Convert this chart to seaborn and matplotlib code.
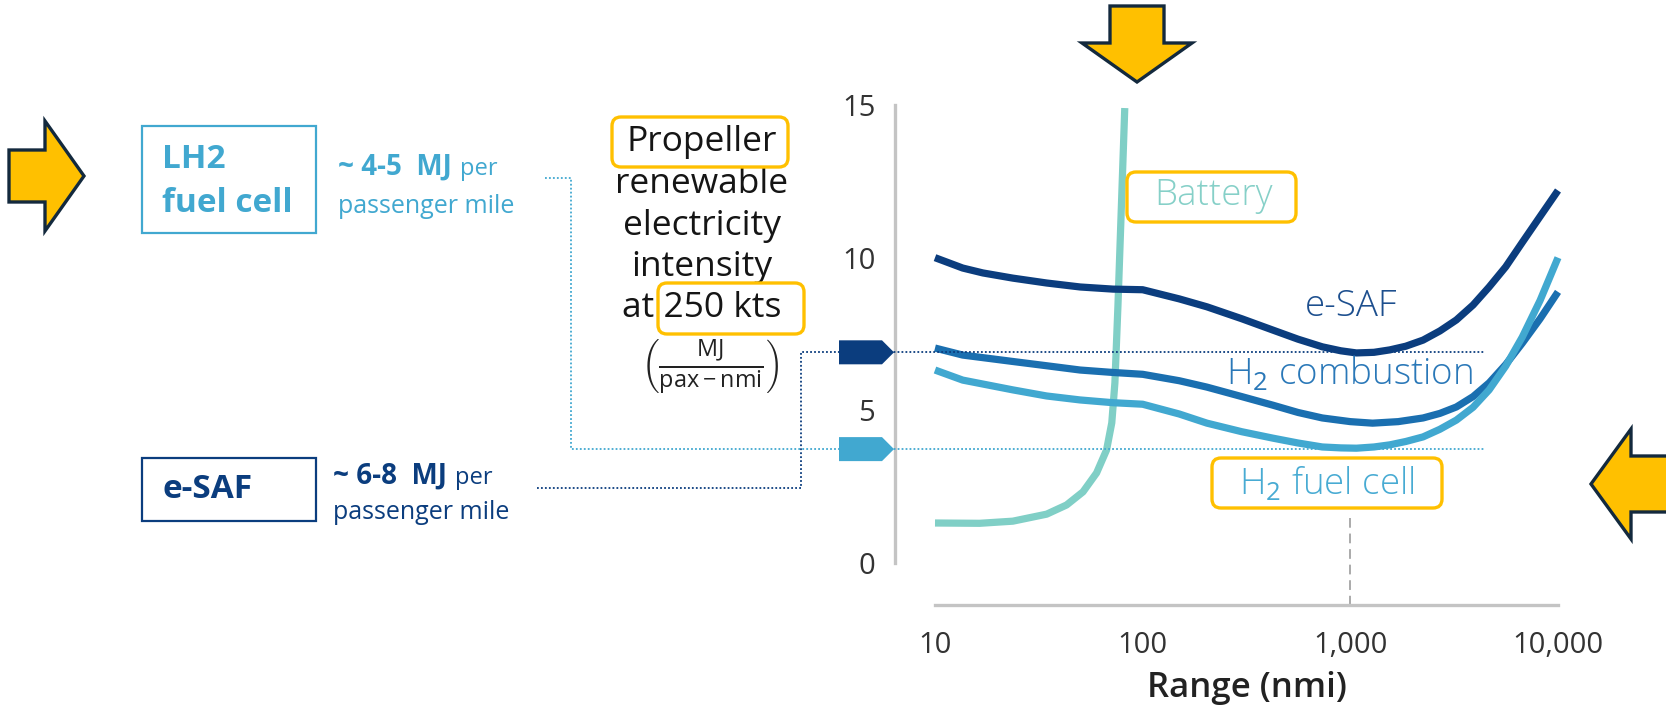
import numpy as np
import pandas as pd
import matplotlib
matplotlib.use("Agg")
import matplotlib.pyplot as plt
import seaborn as sns
from matplotlib.patches import Polygon, FancyBboxPatch, Rectangle
from matplotlib.lines import Line2D
from matplotlib.transforms import IdentityTransform
from matplotlib.ticker import LogLocator, FixedLocator, NullFormatter

# ---------------- data ----------------
esaf_range = [10, 13.6, 17, 23.7, 34.5, 50, 72, 100, 150, 204, 300, 423, 560, 733, 900,
              1070, 1300, 1550, 1850, 2240, 2700, 3240, 3900, 4660, 5600, 6730, 8200, 10000]
esaf_mj = [10.0, 9.66, 9.5, 9.33, 9.17, 9.04, 8.97, 8.95, 8.65, 8.39, 8.0, 7.63, 7.33, 7.08, 6.95,
           6.88, 6.9, 6.98, 7.1, 7.3, 7.6, 7.96, 8.45, 9.04, 9.7, 10.5, 11.35, 12.2]

h2comb_range = [10, 13.6, 23.7, 34.5, 50, 72, 100, 150, 204, 300, 423, 560, 733, 1000,
                1280, 1700, 2240, 2700, 3240, 3900, 4660, 5600, 6730, 8200, 10000]
h2comb_mj = [7.04, 6.81, 6.6, 6.46, 6.32, 6.24, 6.18, 5.97, 5.76, 5.45, 5.17, 4.93, 4.75, 4.63,
             4.58, 4.63, 4.75, 4.9, 5.11, 5.45, 5.9, 6.5, 7.2, 8.0, 8.88]

h2fc_range = [10, 13.6, 23.7, 34.5, 50, 72, 100, 150, 204, 300, 423, 560, 733, 900, 1070,
              1300, 1550, 1850, 2240, 2700, 3240, 3900, 4660, 5600, 6730, 8200, 10000]
h2fc_mj = [6.32, 5.99, 5.67, 5.47, 5.34, 5.25, 5.2, 4.88, 4.58, 4.3, 4.09, 3.93, 3.8, 3.77, 3.76,
           3.8, 3.87, 3.98, 4.13, 4.38, 4.68, 5.1, 5.67, 6.45, 7.4, 8.6, 10.0]

battery_range = [10, 16.4, 23.7, 34.5, 43, 51.6, 60, 67, 71, 73.5, 76, 79, 82]
battery_mj = [1.31, 1.3, 1.37, 1.6, 1.9, 2.33, 2.95, 3.7, 4.59, 5.9, 8.4, 11.7, 14.9]

series_names = ["e-SAF", "H2 combustion", "H2 fuel cell", "Battery"]
series_colors = ["#0b3d7e", "#1a6fb0", "#41a8d0", "#80cfc6"]

x_ticks = [10, 100, 1000, 10000]
x_ticklabels = ["10", "100", "1,000", "10,000"]
y_ticks = [0, 5, 10, 15]
y_ticklabels = ["0", "5", "10", "15"]

esaf_marker_level = 6.9      # e-SAF minimum (~6-8 MJ)
h2fc_marker_level = 3.73     # H2 fuel cell minimum (~4-5 MJ)
h2fc_min_range = 1000

# ---------------- figure ----------------
sns.set_style("white")
plt.rcParams["font.family"] = ["Open Sans", "DejaVu Sans"]
plt.rcParams["mathtext.fontset"] = "custom"
plt.rcParams["mathtext.rm"] = "Open Sans"
plt.rcParams["mathtext.it"] = "Open Sans:italic"
plt.rcParams["mathtext.bf"] = "Open Sans:bold"

W, H = 1666, 714
fig = plt.figure(figsize=(W / 100, H / 100), dpi=100)
fig.patch.set_facecolor("white")
ID = IdentityTransform()

def P(x, y):
    return (x, H - y)

# axes: x 10..10000 -> px 935..1558 ; y 0..15 -> px 563..105
ax = fig.add_axes([935 / W, 1 - 563 / H, (1558 - 935) / W, (563 - 105) / H])
ax.set_facecolor("none")

frames = [
    pd.DataFrame({"range": esaf_range, "mj": esaf_mj, "s": series_names[0]}),
    pd.DataFrame({"range": h2comb_range, "mj": h2comb_mj, "s": series_names[1]}),
    pd.DataFrame({"range": h2fc_range, "mj": h2fc_mj, "s": series_names[2]}),
    pd.DataFrame({"range": battery_range, "mj": battery_mj, "s": series_names[3]}),
]
order = [3, 0, 1, 2]
for i in order:
    sns.lineplot(data=frames[i], x="range", y="mj", ax=ax, color=series_colors[i],
                 linewidth=5.2, estimator=None, sort=False, legend=False,
                 solid_capstyle="butt", solid_joinstyle="round")
for ln in ax.lines:
    ln.set_clip_on(False)

ax.set_xscale("log")
ax.set_xlim(10, 10000)
ax.set_ylim(0, 15)
ax.set_xlabel("Range (nmi)", fontsize=25, fontweight="semibold", color="#222222", labelpad=8)
ax.set_ylabel("")

spine_col = "#c4c4c4"
for s in ["top", "right"]:
    ax.spines[s].set_visible(False)
ax.spines["left"].set_position(("outward", 29))
ax.spines["bottom"].set_position(("outward", 30))
ax.spines["left"].set_bounds(0, 15)
ax.spines["bottom"].set_bounds(10, 10000)
for s in ["left", "bottom"]:
    ax.spines[s].set_color(spine_col)
    ax.spines[s].set_linewidth(2.4)

ax.xaxis.set_major_locator(FixedLocator(x_ticks))
ax.set_xticklabels(x_ticklabels)
ax.xaxis.set_minor_locator(LogLocator(base=10, subs=np.arange(2, 10)))
ax.xaxis.set_minor_formatter(NullFormatter())
ax.set_yticks(y_ticks)
ax.set_yticklabels(y_ticklabels)
ax.tick_params(axis="x", which="major", direction="out", length=14, width=2.0,
               color=spine_col, labelsize=21, labelcolor="#333333", pad=5)
ax.tick_params(axis="x", which="minor", direction="out", length=7, width=1.6, color=spine_col)
ax.tick_params(axis="y", which="major", direction="out", length=9, width=2.0,
               color=spine_col, labelsize=21, labelcolor="#333333", pad=5)
ax.tick_params(axis="y", which="minor", left=False)

# dashed grey guide at the fuel-cell optimum range
ax.plot([h2fc_min_range, h2fc_min_range], [1.47, -1.4], color="#aaaaaa", lw=1.4,
        ls=(0, (5, 3)), clip_on=False, zorder=1)

fig.canvas.draw()
renderer = fig.canvas.get_renderer()

def ypix_of(v):
    # pixel y measured from the top
    return H - ax.transData.transform((10, v))[1]

y_esaf = ypix_of(esaf_marker_level)
y_fc = ypix_of(h2fc_marker_level)

# ---------------- connectors (dotted) ----------------
navy = "#0b3d7e"
light = "#41a8d0"
def dotted(pts, color):
    xs = [p[0] for p in pts]
    ys = [H - p[1] for p in pts]
    fig.add_artist(Line2D(xs, ys, transform=ID, color=color, lw=1.3, ls=(0, (1, 1.2)), zorder=2))

dotted([(545, 178), (571, 178), (571, y_fc), (1484, y_fc)], light)
dotted([(537, 488), (801, 488), (801, y_esaf), (1484, y_esaf)], navy)

# pentagon markers on the y axis
def pent(yc, color):
    pts = [P(839, yc - 12), P(882, yc - 12), P(894, yc), P(882, yc + 12), P(839, yc + 12)]
    fig.add_artist(Polygon(pts, closed=True, transform=ID, fc=color, ec="none", zorder=5))
pent(y_esaf, navy)
pent(y_fc, light)

# ---------------- yellow arrows ----------------
arrow_fc = "#FFC000"
arrow_ec = "#13293d"
def arrow(pts):
    fig.add_artist(Polygon([P(x, y) for x, y in pts], closed=True, transform=ID,
                           fc=arrow_fc, ec=arrow_ec, lw=2.4, joinstyle="miter", zorder=6))
arrow([(9, 150), (45, 150), (45, 121), (84, 176), (45, 231), (45, 202), (9, 202)])
arrow([(1591, 484), (1631, 429), (1631, 456), (1675, 456), (1675, 512), (1631, 512), (1631, 539)])
arrow([(1110, 6), (1164, 6), (1164, 43), (1192, 43), (1137, 82), (1082, 43), (1110, 43)])

# ---------------- yellow rounded boxes ----------------
def ybox(x0, y0, x1, y1):
    fig.add_artist(FancyBboxPatch(P(x0, y1), x1 - x0, y1 - y0,
                                  boxstyle="round,pad=0,rounding_size=9", transform=ID,
                                  fc="none", ec="#FFC000", lw=2.4, zorder=7))
ybox(612, 117, 788, 167)
ybox(658, 283, 804, 334)
ybox(1127, 172, 1296, 222)
ybox(1212, 458, 1442, 508)

# ---------------- title block ----------------
tcol = "#151515"
for txt, yc in [("Propeller", 142), ("renewable", 184), ("electricity", 226), ("intensity", 267),
                ("at 250 kts", 308)]:
    fig.text(702, H - yc, txt, transform=ID, ha="center", va="center", fontsize=25.5, color=tcol)
fig.text(710, H - 367, r"$\left(\frac{\mathrm{MJ}}{\mathrm{pax-nmi}}\right)$", transform=ID,
         ha="center", va="center", fontsize=24, color="#222222")

# ---------------- in-chart labels ----------------
lab_kw = dict(transform=ID, ha="center", va="center", fontsize=26.5, fontweight="light")
fig.text(1213, H - 196, "Battery", color="#86d0c8", **lab_kw)
fig.text(1351, H - 306, "e-SAF", color="#1d4f8e", **lab_kw)
fig.text(1349, H - 373, r"H$_{\mathrm{2}}$ combustion", color="#2a78b8", **lab_kw)
fig.text(1327, H - 484, r"H$_{\mathrm{2}}$ fuel cell", color="#48abd3", **lab_kw)

# ---------------- left annotation boxes ----------------
lfont = ["Open Sans", "DejaVu Sans"]
def rect(x0, y0, x1, y1, color):
    fig.add_artist(Rectangle(P(x0, y1), x1 - x0, y1 - y0, transform=ID, fc="none",
                             ec=color, lw=1.6, zorder=3))
rect(142, 126, 316, 233, light)
rect(142, 458, 316, 521, navy)

fig.text(162, H - 160, "LH2", transform=ID, ha="left", va="center", fontsize=24,
         fontweight="bold", color=light, family=lfont)
fig.text(162, H - 204, "fuel cell", transform=ID, ha="left", va="center", fontsize=24,
         fontweight="bold", color=light, family=lfont)
fig.text(162, H - 490, "e-SAF", transform=ID, ha="left", va="center", fontsize=24,
         fontweight="bold", color=navy, family=lfont)

def mj_line(x, y, big, color):
    t = fig.text(x, H - y, big, transform=ID, ha="left", va="baseline", fontsize=20,
                 fontweight="bold", color=color, family=lfont)
    bb = t.get_window_extent(renderer)
    fig.text(bb.x1 + 8, H - y, "per", transform=ID, ha="left", va="baseline", fontsize=17,
             color=color, family=lfont)

mj_line(338, 175, "~ 4-5  MJ", light)
fig.text(338, H - 213, "passenger mile", transform=ID, ha="left", va="baseline", fontsize=18,
         color=light, family=lfont)
mj_line(333, 484, "~ 6-8  MJ", navy)
fig.text(333, H - 519, "passenger mile", transform=ID, ha="left", va="baseline", fontsize=18,
         color=navy, family=lfont)

fig.savefig("out.png", dpi=100, facecolor="white")
